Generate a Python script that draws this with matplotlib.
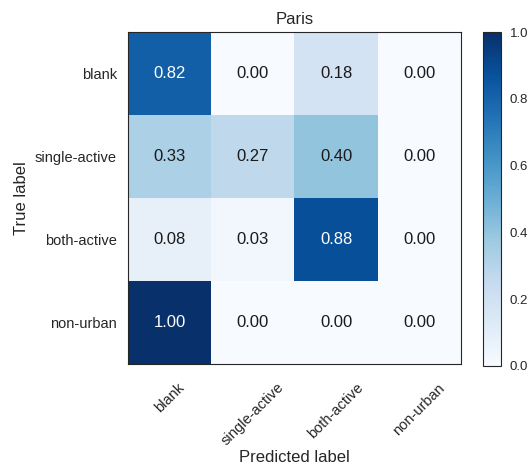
import numpy as np
import matplotlib
matplotlib.use('Agg')
import matplotlib.pyplot as plt
import seaborn as sns

sns.set_style('white')
plt.rcParams['font.family'] = ['Liberation Sans', 'DejaVu Sans']

classes = ['blank', 'single-active', 'both-active', 'non-urban']
row_blank = [0.82, 0.00, 0.18, 0.00]
row_single = [0.33, 0.27, 0.40, 0.00]
row_both = [0.08, 0.03, 0.88, 0.00]
row_nonurban = [1.00, 0.00, 0.00, 0.00]
cm = np.array([row_blank, row_single, row_both, row_nonurban])

fig = plt.figure(figsize=(5.31, 4.66), dpi=100)
ax = fig.add_axes([0.241, 0.219, 0.627, 0.712])
cax = fig.add_axes([0.910, 0.215, 0.034, 0.716])

im = ax.imshow(cm, interpolation='nearest', cmap=plt.cm.Blues, vmin=0, vmax=1, aspect='auto')
ax.set_title('Paris', fontsize=12, color='.15')
cb = fig.colorbar(im, cax=cax)
cb.ax.tick_params(labelsize=9.5, length=0, pad=6, labelcolor='.15')
cb.outline.set_edgecolor('.15')

ticks = np.arange(len(classes))
ax.set_xticks(ticks)
ax.set_xticklabels(classes, rotation=45, fontsize=10.5, color='.15')
ax.set_yticks(ticks)
ax.set_yticklabels(classes, fontsize=10.5, color='.15')
ax.tick_params(length=0)
ax.tick_params(axis='x', pad=12)
ax.tick_params(axis='y', pad=8)

thresh = cm.max() / 2.
for i in range(cm.shape[0]):
    for j in range(cm.shape[1]):
        ax.text(j, i, format(cm[i, j], '.2f'), ha='center', va='center', fontsize=12,
                color='white' if cm[i, j] > thresh else '.1')

ax.set_ylabel('True label', fontsize=12, color='.15')
ax.set_xlabel('Predicted label', fontsize=12, color='.15', labelpad=1)
for s in ax.spines.values():
    s.set_edgecolor('.15')

fig.savefig('out.png', dpi=100)
